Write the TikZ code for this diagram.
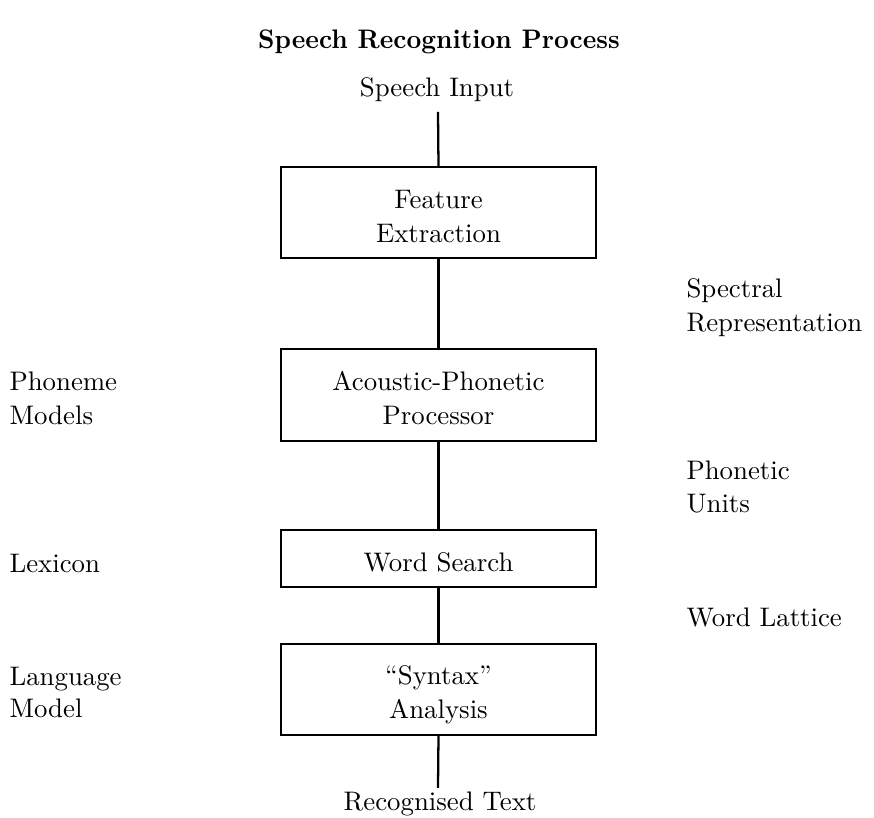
\documentclass[tikz,border=0pt]{standalone}
\begin{document}
% Coordinates are given in a pixel-like grid: x to the right, y downwards.
\begin{tikzpicture}[x=0.373pt,y=-0.373pt,
  stage/.style={draw,line width=0.85pt,minimum width=315*0.373pt,inner sep=0pt},
  txt/.style={anchor=base,inner sep=0pt,font=\normalsize},
  side/.style={anchor=base west,inner sep=0pt,font=\normalsize},
  link/.style={line width=0.85pt}]
\useasboundingbox (0,0) rectangle (874,818);

% title
\node[txt,font=\normalsize\bfseries] (title) at (439,49) {\scalebox{0.96}[1]{Speech Recognition Process}};

% input and output texts
\node[txt] (input) at (437,97) {Speech Input};
\coordinate (inputend) at (438,112);
\node[txt] (output) at (440,811) {Recognised Text};
\coordinate (outputend) at (438,788);

% processing stages
\node[stage,minimum height=91*0.373pt] (fe) at (438.5,212.5) {};
\node[txt] (fe1) at (438.5,209) {Feature};
\node[txt] (fe2) at (438.5,243) {Extraction};

\node[stage,minimum height=92*0.373pt] (ap) at (438.5,395) {};
\node[txt] (ap1) at (438.5,391) {Acoustic-Phonetic};
\node[txt] (ap2) at (438.5,425) {Processor};

\node[stage,minimum height=57*0.373pt] (ws) at (438.5,558.5) {};
\node[txt] (ws1) at (438.5,572) {Word Search};

\node[stage,minimum height=91*0.373pt] (sa) at (438.5,689.5) {};
\node[txt] (sa1) at (438.5,685) {``Syntax''};
\node[txt] (sa2) at (438.5,719) {Analysis};

% connectors
\draw[link] (inputend) -- (fe.north);
\draw[link] (fe.south) -- (ap.north);
\draw[link] (ap.south) -- (ws.north);
\draw[link] (ws.south) -- (sa.north);
\draw[link] (sa.south) -- (outputend);

% knowledge sources on the left
\node[side] (pm1) at (9,391) {Phoneme};
\node[side] (pm2) at (9,425) {Models};
\node[side] (lex) at (9,573) {Lexicon};
\node[side] (lm1) at (9,686) {Language};
\node[side] (lm2) at (9,718) {Model};

% intermediate representations on the right
\node[side] (sr1) at (686,298) {Spectral};
\node[side] (sr2) at (686,332) {Representation};
\node[side] (pu1) at (686,480) {Phonetic};
\node[side] (pu2) at (686,513) {Units};
\node[side] (wl) at (686,627) {Word Lattice};
\end{tikzpicture}
\end{document}
